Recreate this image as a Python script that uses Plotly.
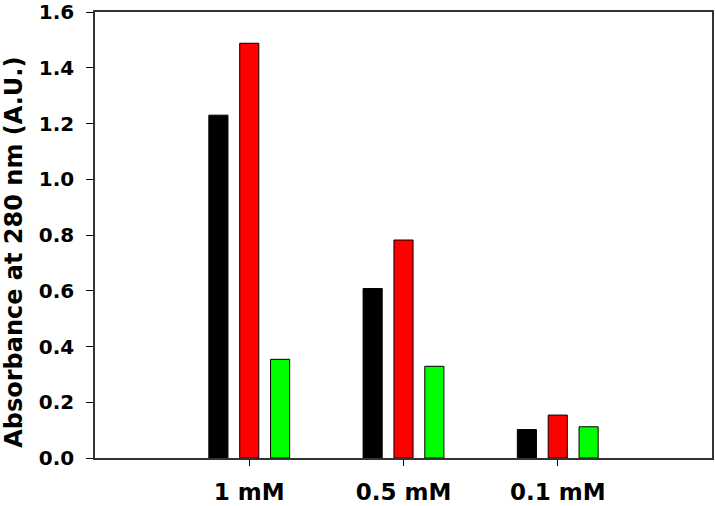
import plotly.graph_objects as go

categories = ["1 mM", "0.5 mM", "0.1 mM"]
positions = [0, 1, 2]
series_black = [1.23, 0.608, 0.102]
series_red = [1.488, 0.782, 0.154]
series_green = [0.354, 0.329, 0.112]
y_ticks = [0.0, 0.2, 0.4, 0.6, 0.8, 1.0, 1.2, 1.4, 1.6]
y_ticklabels = ["0.0", "0.2", "0.4", "0.6", "0.8", "1.0", "1.2", "1.4", "1.6"]
y_title = "Absorbance at 280 nm (A.U.)"

font_family = "DejaVu Sans, sans-serif"

fig = go.Figure()
for vals, color in [(series_black, "#000000"), (series_red, "#ff0000"), (series_green, "#00ff00")]:
    fig.add_trace(go.Bar(
        x=positions, y=vals,
        marker=dict(color=color, line=dict(color="#000000", width=1)),
        showlegend=False,
    ))

fig.update_layout(
    width=715, height=506,
    margin=dict(l=95, r=3, t=12, b=48),
    paper_bgcolor="white", plot_bgcolor="white",
    barmode="group", bargap=0.4, bargroupgap=0.38,
    font=dict(family=font_family, size=20, color="black"),
)
fig.update_xaxes(
    range=[-1, 3], tickvals=positions, ticktext=["<b>%s</b>" % c for c in categories],
    ticks="outside", ticklen=6, tickwidth=1, tickcolor="black",
    showline=True, linecolor="#333333", linewidth=1.5, mirror=True,
    showgrid=False, zeroline=False, automargin=False,
    tickfont=dict(family=font_family, size=23, color="black"),
    ticklabelstandoff=7, ticklabeloverflow="allow",
)
fig.update_yaxes(
    range=[0, 1.6001], tickvals=y_ticks, ticktext=["<b>%s</b>" % t for t in y_ticklabels],
    ticks="outside", ticklen=7, tickwidth=1, tickcolor="black",
    showline=True, linecolor="#333333", linewidth=1.5, mirror=True,
    showgrid=False, zeroline=False, automargin=False,
    tickfont=dict(family=font_family, size=20, color="black"),
    ticklabelstandoff=8, ticklabeloverflow="allow",
)
fig.add_annotation(
    text="<b>%s</b>" % y_title, textangle=-90,
    xref="paper", yref="paper", x=0, y=0.46,
    xanchor="center", yanchor="middle", xshift=-81, showarrow=False,
    font=dict(family=font_family, size=24, color="black"),
)

fig.write_html(
    "out.html",
    config={"displayModeBar": False},
    post_script="document.body.style.margin='0';document.body.style.overflow='hidden';",
)
